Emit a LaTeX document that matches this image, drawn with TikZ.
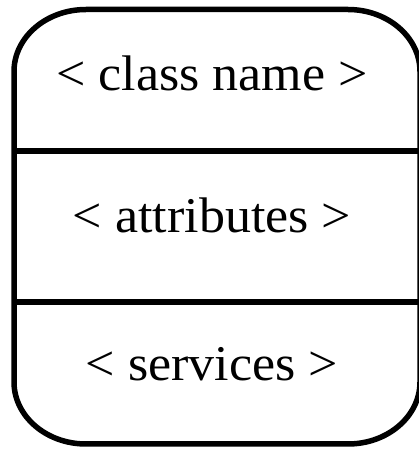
\documentclass[tikz,border=0pt]{standalone}
\usepackage{fontspec}
\setmainfont{Liberation Serif}
\usepackage{graphicx}
\tikzset{
  frame/.style={line width=5.5pt, line join=round},
  label/.style={anchor=base, inner sep=0pt, font=\fontsize{50}{56}\selectfont}
}
\newcommand{\widetext}[1]{\scalebox{1.04}[1]{#1}}
\begin{document}
\begin{tikzpicture}[x=1pt,y=1pt]
  \useasboundingbox (0,0) rectangle (419,450);
  % outer box with elliptic corners
  \draw[frame] (86,440.5) -- (348,440.5)
    arc[start angle=90, end angle=0, x radius=72, y radius=62] -- (420,68)
    arc[start angle=0, end angle=-90, x radius=72, y radius=62] -- (86,6)
    arc[start angle=270, end angle=180, x radius=72, y radius=62] -- (14,378.5)
    arc[start angle=180, end angle=90, x radius=72, y radius=62] -- cycle;
  % compartment dividers
  \draw[frame] (14,299) -- (420,299);
  \draw[frame] (14,148) -- (420,148);
  % compartment texts
  \node[label] (name) at (212,359) {\widetext{< class name >}};
  \node[label] (attr) at (212,217) {\widetext{< attributes >}};
  \node[label] (serv) at (212,69) {\widetext{< services >}};
\end{tikzpicture}
\end{document}
